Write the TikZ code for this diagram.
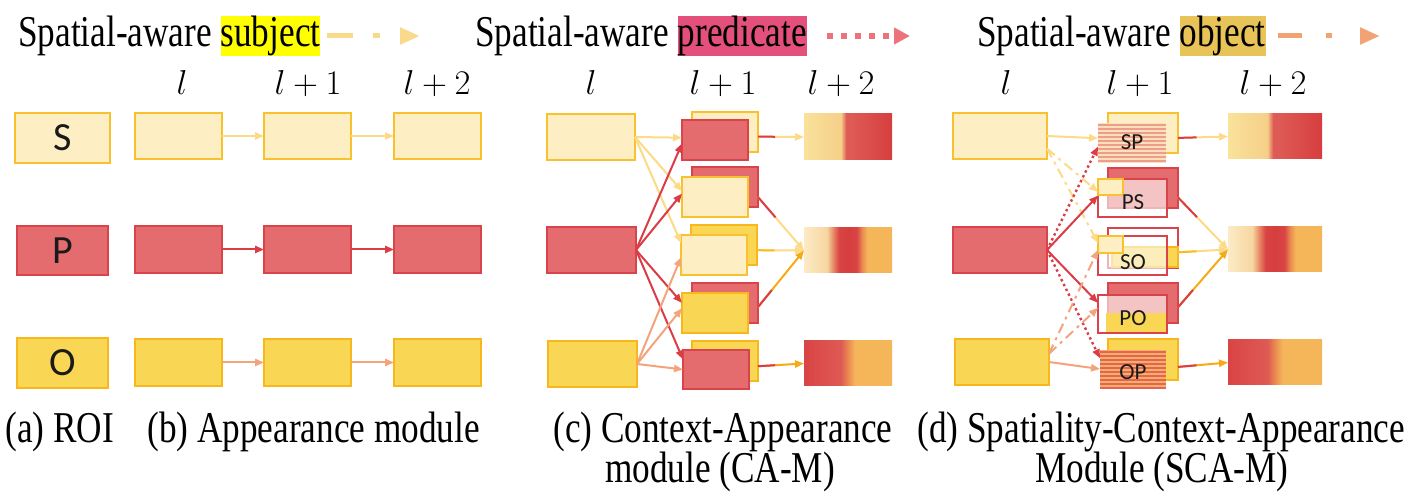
\documentclass[tikz,border=0pt]{standalone}
\usepackage{fontspec}
\setmainfont{Liberation Serif}
\newfontfamily\capfont[FakeStretch=0.8]{Liberation Serif}
\newfontfamily\lblfont{Carlito}
\usetikzlibrary{arrows.meta,calc}
\definecolor{sF}{HTML}{FDEFC3}
\definecolor{sB}{HTML}{FAC12E}
\definecolor{pF}{HTML}{E46C6E}
\definecolor{pB}{HTML}{D9444B}
\definecolor{oF}{HTML}{F9D653}
\definecolor{oB}{HTML}{F7B71D}
\definecolor{aS}{HTML}{FDDB86}
\definecolor{aP}{HTML}{DB3C46}
\definecolor{aO}{HTML}{F4A47C}
\definecolor{aOr}{HTML}{F7AA17}
\definecolor{aOy}{HTML}{F9BC22}
\definecolor{hlS}{HTML}{FFFF00}
\definecolor{hlP}{HTML}{E2507B}
\definecolor{hlO}{HTML}{E8C357}
\definecolor{lgS}{HTML}{F9D98C}
\definecolor{lgP}{HTML}{EC737B}
\definecolor{lgO}{HTML}{F2A373}
\definecolor{spA}{HTML}{FBE1BA}
\definecolor{spB}{HTML}{EE9C8C}
\definecolor{opA}{HTML}{F3B260}
\definecolor{opB}{HTML}{E7625B}
\definecolor{gA}{HTML}{FAE29C}
\definecolor{gB}{HTML}{F5CF88}
\definecolor{gC}{HTML}{DE5A55}
\definecolor{gD}{HTML}{D63E3E}
\definecolor{gE}{HTML}{FCEBC6}
\definecolor{gF}{HTML}{F7D6A0}
\definecolor{gG}{HTML}{E58060}
\definecolor{gH}{HTML}{D94444}
\definecolor{gI}{HTML}{F5B65A}
\definecolor{gJ}{HTML}{EA8A50}
\pgfdeclarehorizontalshading{gradSP}{100bp}{color(0bp)=(gA); color(25bp)=(gA); color(46bp)=(gB); color(49bp)=(gC); color(52bp)=(gC); color(75bp)=(gD); color(100bp)=(gD)}
\pgfdeclarehorizontalshading{gradSPO}{100bp}{color(0bp)=(gE); color(25bp)=(gE); color(38bp)=(gF); color(42bp)=(gG); color(45bp)=(gH); color(50bp)=(gD); color(55bp)=(gH); color(58bp)=(gJ); color(61bp)=(gI); color(75bp)=(gI); color(100bp)=(gI)}
\pgfdeclarehorizontalshading{gradOP}{100bp}{color(0bp)=(gH); color(25bp)=(gH); color(46bp)=(gC); color(50bp)=(gJ); color(54bp)=(gI); color(75bp)=(gI); color(100bp)=(gI)}
\newcommand\bx[7]{\node[#6, inner sep=0pt, outer sep=0pt, minimum width={(#4-#2)*0.5pt}, minimum height={(#5-#3)*0.5pt}] (#1) at ({(#2+#4)/2},{(#3+#5)/2}) {#7};}
\newcommand\lbl{\lblfont\fontsize{20}{21}\selectfont\color[HTML]{1A1A1A}}
\newcommand\slbl{\lblfont\fontsize{11.5}{12}\selectfont\color[HTML]{1A1A1A}}
\newcommand\hdr{\fontsize{17}{20}\selectfont}
\newcommand\captxt{\capfont\fontsize{22}{24}\selectfont}
\begin{document}
\begin{tikzpicture}[x=0.5pt,y=-0.5pt,
  sbox/.style={fill=sF, draw=sB, line width=1.3pt},
  pbox/.style={fill=pF, draw=pB, line width=1.3pt},
  obox/.style={fill=oF, draw=oB, line width=1.3pt},
  ghost/.style={fill=white, fill opacity=0.6, text opacity=1, draw=pB, line width=1.3pt},
  arr/.style={line width=1pt, -{Triangle[length=4.5pt,width=3.6pt]}},
  seg/.style={line width=1pt},
  dd/.style={arr, dash pattern=on 5pt off 2.5pt on 1.5pt off 2.5pt},
  dt/.style={arr, line width=1.2pt, dash pattern=on 1.2pt off 1.5pt},
  gbox/.style={shade, shading=#1}]
\fill[white] (0,0) rectangle (1414,496);
\useasboundingbox (0,0) rectangle (1414,496);

% ---------- legend ----------
\fboxsep=0pt
\node[anchor=base west, inner sep=0pt] (lg1) at (18,47) {\captxt Spatial-aware \colorbox{hlS}{subject}};
\node[anchor=base west, inner sep=0pt] (lg2) at (475,47) {\captxt Spatial-aware \colorbox{hlP}{predicate}};
\node[anchor=base west, inner sep=0pt] (lg3) at (977,47) {\captxt Spatial-aware \colorbox{hlO}{object}};
\coordinate (lgs1) at (327,36); \coordinate (lgs2) at (420,36);
\coordinate (lgp1) at (827,36); \coordinate (lgp2) at (910,36);
\coordinate (lgo1) at (1278,36); \coordinate (lgo2) at (1380,36);
\draw[lgS, line width=2.5pt, dash pattern=on 13pt off 10pt on 3.5pt off 10pt, -{Triangle[length=10pt,width=8pt]}] (lgs1) -- (lgs2);
\draw[lgP, line width=3pt, dash pattern=on 3pt off 4pt, -{Triangle[length=8pt,width=8pt]}] (lgp1) -- (lgp2);
\draw[lgO, line width=2.5pt, dash pattern=on 12pt off 12pt on 3pt off 14pt, -{Triangle[length=10pt,width=8pt]}] (lgo1) -- (lgo2);

% ---------- headers ----------
\node[anchor=base] (hb1) at (182,95) {\hdr$l$};
\node[anchor=base] (hb2) at (308,95) {\hdr$l+1$};
\node[anchor=base] (hb3) at (437,95) {\hdr$l+2$};
\node[anchor=base] (hc1) at (591,95) {\hdr$l$};
\node[anchor=base] (hc2) at (723,95) {\hdr$l+1$};
\node[anchor=base] (hc3) at (841,95) {\hdr$l+2$};
\node[anchor=base] (hd1) at (1006,95) {\hdr$l$};
\node[anchor=base] (hd2) at (1140,95) {\hdr$l+1$};
\node[anchor=base] (hd3) at (1273,95) {\hdr$l+2$};

% ---------- (a) ROI ----------
\bx{aS}{15}{113}{110}{163}{sbox}{\lbl S}
\bx{aP}{17}{226}{108}{275}{pbox}{\lbl P}
\bx{aO}{17}{338}{108}{388}{obox}{\lbl O}

% ---------- (b) Appearance ----------
\bx{bS1}{135}{113}{222}{159}{sbox}{}
\bx{bS2}{264}{113}{351}{159}{sbox}{}
\bx{bS3}{394}{113}{481}{159}{sbox}{}
\bx{bP1}{135}{226}{222}{273}{pbox}{}
\bx{bP2}{264}{226}{351}{273}{pbox}{}
\bx{bP3}{394}{226}{481}{273}{pbox}{}
\bx{bO1}{135}{339}{222}{386}{obox}{}
\bx{bO2}{264}{339}{351}{386}{obox}{}
\bx{bO3}{394}{339}{481}{386}{obox}{}
\draw[arr, aS] (bS1.east) -- (bS2.west);
\draw[arr, aS] (bS2.east) -- (bS3.west);
\draw[arr, aP] (bP1.east) -- (bP2.west);
\draw[arr, aP] (bP2.east) -- (bP3.west);
\draw[arr, aO] (bO1.east) -- (bO2.west);
\draw[arr, aO] (bO2.east) -- (bO3.west);

% ---------- (c) Context-Appearance ----------
\bx{cS}{547}{114}{635}{160}{sbox}{}
\bx{cP}{547}{227}{636}{273}{pbox}{}
\bx{cO}{548}{341}{637}{387}{obox}{}
\bx{c1b}{692}{112}{758}{152}{sbox}{}
\bx{c1f}{682}{120}{748}{160}{pbox}{}
\bx{c2b}{692}{167}{758}{207}{pbox}{}
\bx{c2f}{682}{177}{748}{217}{sbox}{}
\bx{c3b}{691}{225}{757}{265}{obox}{}
\bx{c3f}{681}{235}{747}{275}{sbox}{}
\bx{c4b}{692}{283}{758}{323}{pbox}{}
\bx{c4f}{682}{293}{748}{333}{obox}{}
\bx{c5b}{692}{341}{758}{381}{obox}{}
\bx{c5f}{683}{350}{749}{389}{pbox}{}
\bx{cg1}{804}{114}{892}{160}{gbox=gradSP}{}
\bx{cg2}{804}{228}{892}{273}{gbox=gradSPO}{}
\bx{cg3}{804}{341}{892}{386}{gbox=gradOP}{}
% inputs
\draw[arr, aS] (cS.east) -- (c1f.176);
\draw[arr, aS] (cS.east) -- (c2f.170);
\draw[arr, aS] (cS.east) -- (c3f.160);
\draw[arr, aP] (cP.east) -- (c1f.186);
\draw[arr, aP] (cP.east) -- (c2f.174);
\draw[arr, aP] (cP.east) -- (c4f.163);
\draw[arr, aP] (cP.east) -- (c5f.163);
\draw[arr, aO] (cO.east) -- (c3f.184);
\draw[arr, aO] (cO.east) -- (c4f.172);
\draw[arr, aO] (cO.east) -- (c5f.west);
% outputs
\draw[arr, aS] (c1b.-8) -- (cg1.west);
\draw[seg, aP] (c1b.-8) -- ($(c1b.-8)!0.37!(cg1.west)$);
\draw[arr, aS] (c2b.-17) -- (cg2.west);
\draw[seg, aP] (c2b.-17) -- ($(c2b.-17)!0.38!(cg2.west)$);
\draw[arr, aS] (c3b.-9) -- (cg2.west);
\draw[seg, aOy] (c3b.-9) -- ($(c3b.-9)!0.37!(cg2.west)$);
\draw[arr, aOr] (c4b.-7) -- (cg2.west);
\draw[seg, aP] (c4b.-7) -- ($(c4b.-7)!0.3!(cg2.west)$);
\draw[arr, aOr] (c5b.-9) -- (cg3.west);
\draw[seg, aP] (c5b.-9) -- ($(c5b.-9)!0.37!(cg3.west)$);

% ---------- (d) Spatiality-Context-Appearance ----------
\bx{dS}{953}{113}{1047}{159}{sbox}{}
\bx{dP}{953}{227}{1047}{273}{pbox}{}
\bx{dO}{955}{339}{1049}{385}{obox}{}
% SP
\bx{dSPb}{1108}{113}{1178}{153}{sbox}{}
\bx{dSP}{1098}{123}{1166}{163}{fill=spA}{}
\foreach \k in {0,...,9} \fill[spB] (1098,{124.5+4*\k}) rectangle (1166,{126.5+4*\k});
\node (dSPl) at (1132,142) {\slbl SP};
% PS
\bx{dPSb}{1108}{168}{1178}{208}{pbox}{}
\bx{dPS}{1098}{179}{1167}{217}{ghost}{}
\bx{dPSs}{1098}{179}{1123}{195}{sbox}{}
\node (dPSl) at (1133,202) {\slbl PS};
% SO
\bx{dSOb}{1108}{228}{1178}{268}{fill=white, draw=pB, line width=1.3pt}{}
\bx{dSOo}{1112}{247}{1178}{267}{obox}{}
\bx{dSO}{1098}{236}{1167}{275}{ghost}{}
\bx{dSOs}{1098}{236}{1123}{253}{sbox}{}
\node (dSOl) at (1133,262) {\slbl SO};
% PO
\bx{dPOb}{1108}{283}{1178}{323}{pbox}{}
\bx{dPO}{1098}{295}{1167}{333}{ghost}{}
\fill[oF] (1106,313) rectangle (1166,332);
\node (dPOl) at (1133,318) {\slbl PO};
% OP
\bx{dOPb}{1108}{339}{1178}{380}{obox}{}
\bx{dOP}{1100}{350}{1166}{388}{fill=opA}{}
\foreach \k in {0,...,9} \fill[opB] (1100,{351+4*\k}) rectangle (1166,{353+4*\k});
\node (dOPl) at (1133,372) {\slbl OP};
% gradients
\bx{dg1}{1228}{114}{1322}{159}{gbox=gradSP}{}
\bx{dg2}{1228}{227}{1322}{272}{gbox=gradSPO}{}
\bx{dg3}{1228}{340}{1322}{385}{gbox=gradOP}{}
% inputs
\draw[arr, aS] (dS.east) -- (dSP.172);
\draw[dd, aS] (dS.-15) -- (dPS.170);
\draw[dd, aS] (dS.-15) -- (dSO.160);
\draw[dt, aP] (dP.east) -- (dSP.186);
\draw[arr, aP] (dP.east) -- (dPS.176);
\draw[arr, aP] (dP.east) -- (dPO.162);
\draw[dt, aP] (dP.east) -- (dOP.162);
\draw[arr, aO] (dO.east) -- (dOP.west);
\draw[dd, aO] (dO.10) -- (dSO.171);
\draw[dd, aO] (dO.10) -- (dPO.170);
% outputs
\draw[arr, aS] (dSPb.-8) -- (dg1.west);
\draw[seg, aP] (dSPb.-8) -- ($(dSPb.-8)!0.37!(dg1.west)$);
\draw[arr, aS] (dPSb.-15) -- (dg2.west);
\draw[seg, aP] (dPSb.-15) -- ($(dPSb.-15)!0.38!(dg2.west)$);
\draw[arr, aS] (dSOb.-7) -- (dg2.west);
\draw[seg, aOy] (dSOb.-7) -- ($(dSOb.-7)!0.37!(dg2.west)$);
\draw[arr, aOr] (dPOb.-7) -- (dg2.west);
\draw[seg, aP] (dPOb.-7) -- ($(dPOb.-7)!0.3!(dg2.west)$);
\draw[arr, aOr] (dOPb.-12) -- (dg3.west);
\draw[seg, aP] (dOPb.-12) -- ($(dOPb.-12)!0.37!(dg3.west)$);

% ---------- captions ----------
\node[anchor=base west, inner sep=0pt] (capa) at (5,443) {\captxt (a) ROI};
\node[anchor=base west, inner sep=0pt] (capb) at (147,443) {\captxt (b) Appearance module};
\node[anchor=base west, inner sep=0pt] (capc) at (553,443) {\captxt (c) Context-Appearance};
\node[anchor=base, inner sep=0pt] (capc2) at (720,483) {\captxt module (CA-M)};
\node[anchor=base west, inner sep=0pt] (capd) at (917,443) {\captxt (d) Spatiality-Context-Appearance};
\node[anchor=base, inner sep=0pt] (capd2) at (1162,483) {\captxt Module (SCA-M)};
\end{tikzpicture}
\end{document}
